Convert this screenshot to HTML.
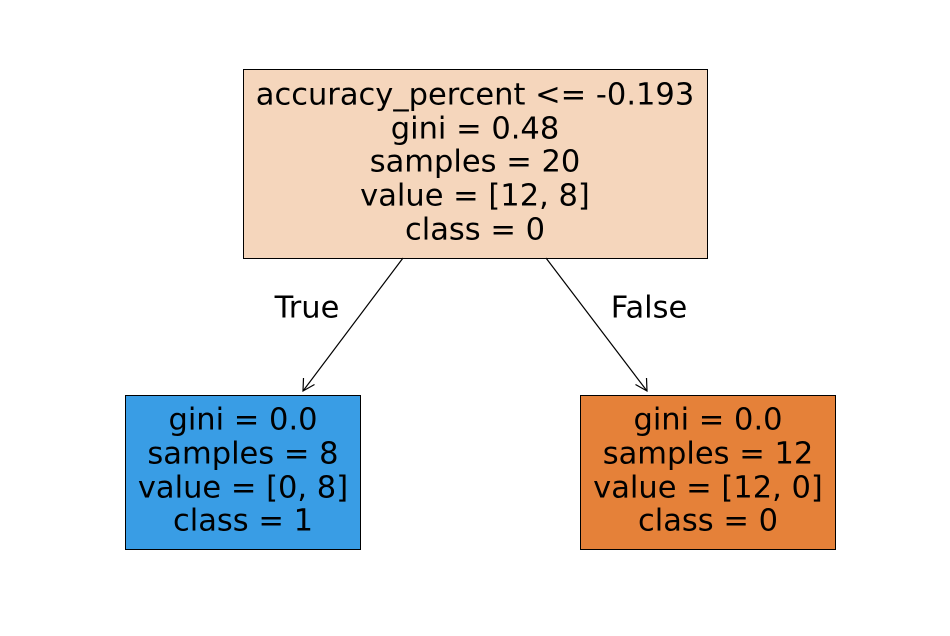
<!DOCTYPE html>
<html><head><style>
html,body{margin:0;padding:0;background:#fff;}
svg{display:block;}
text{font-family:"DejaVu Sans","Liberation Sans",sans-serif;font-size:30.5px;fill:#000;text-anchor:middle;dominant-baseline:central;}
</style></head><body>
<svg width="950" height="636" viewBox="0 0 950 636" xmlns="http://www.w3.org/2000/svg">
<rect x="243.5" y="69.5" width="464" height="189" fill="#f5d6bc" stroke="#000" stroke-width="1"/>
<text x="475" y="95">accuracy_percent &lt;= -0.193</text>
<text x="475" y="129">gini = 0.48</text>
<text x="475" y="162">samples = 20</text>
<text x="475" y="196">value = [12, 8]</text>
<text x="475" y="230">class = 0</text>

<rect x="125.5" y="395.5" width="235" height="154" fill="#399de5" stroke="#000" stroke-width="1"/>
<text x="243" y="420">gini = 0.0</text>
<text x="243" y="454">samples = 8</text>
<text x="243" y="488">value = [0, 8]</text>
<text x="243" y="521">class = 1</text>

<rect x="580.5" y="395.5" width="255" height="154" fill="#e58139" stroke="#000" stroke-width="1"/>
<text x="708" y="420">gini = 0.0</text>
<text x="708" y="454">samples = 12</text>
<text x="708" y="488">value = [12, 0]</text>
<text x="708" y="521">class = 0</text>

<g stroke="#000" stroke-width="1.2" fill="none">
<line x1="403" y1="258" x2="303" y2="391"/>
<polyline points="303.5,378 303,391 314.5,384.5"/>
<line x1="546" y1="258" x2="647" y2="391"/>
<polyline points="635.5,384.5 647,391 646.5,378"/>
</g>
<text x="307" y="308">True</text>
<text x="649" y="308">False</text>
</svg>
</body></html>
